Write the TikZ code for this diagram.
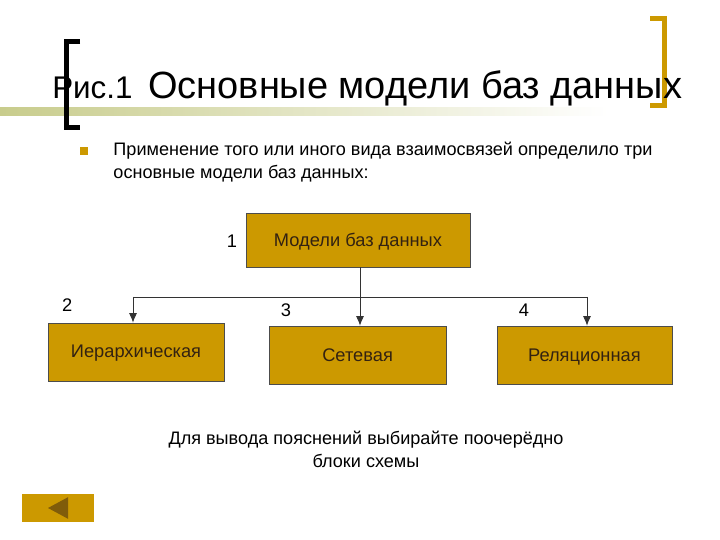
\documentclass[tikz,border=0pt]{standalone}
\usepackage{fontspec}
\setmainfont{Liberation Sans}
\usetikzlibrary{arrows.meta, positioning}
\definecolor{boxgold}{RGB}{204,153,0}
\definecolor{bandolive}{RGB}{200,204,140}
\definecolor{arrowbrown}{RGB}{128,92,10}
\definecolor{inkdark}{RGB}{51,34,17}
\begin{document}
\begin{tikzpicture}[
  modelbox/.style={draw=black!70,fill=boxgold,text=inkdark,font=\fontsize{13}{15}\selectfont,inner sep=0pt,text height=3.7mm,text depth=0.6mm},
  numlabel/.style={font=\fontsize{13}{15}\selectfont,inner sep=0pt},
  bodytext/.style={font=\fontsize{12.86}{16.4}\selectfont,inner sep=0pt,align=left},
  busline/.style={semithick,black!80},
  busarrow/.style={busline,-{Latex[length=2.4mm,width=2mm]}}]
\useasboundingbox (0,0) rectangle (18,13.5);
\fill[white] (0,0) rectangle (18,13.5);
% band under the title
\shade[left color=bandolive,right color=white] (0,10.6) rectangle (15.2,10.8);
% brackets
\draw[line width=1.25mm,black] (2.0,12.47) -- (1.66,12.47) -- (1.66,10.3) -- (2.0,10.3);
\draw[line width=1.25mm,boxgold] (16.25,13.03) -- (16.6,13.03) -- (16.6,10.85) -- (16.25,10.85);
% title
\node[anchor=base west,inner sep=0pt,font=\fontsize{22.3}{26}\selectfont] (fig) at (1.3,11.03) {Рис.1};
\node[anchor=base west,inner sep=0pt,font=\fontsize{27}{31}\selectfont] (title) at (3.7,11.03) {Основные модели баз данных};
% bullet
\node[fill=boxgold,minimum size=0.2cm,inner sep=0pt] (bullet) at (2.1,9.73) {};
\node[bodytext,anchor=north west] (intro) at (2.83,9.95) {Применение того или иного вида взаимосвязей определило три\\основные модели баз данных:};
% boxes
\node[modelbox,minimum width=5.6cm,minimum height=1.35cm] (models) at (8.95,7.5) {Модели баз данных};
\node[modelbox,minimum width=4.4cm,minimum height=1.45cm,text height=3.3mm] (hier) at (3.4,4.7) {Иерархическая};
\node[modelbox,minimum width=4.42cm,minimum height=1.45cm] (net) at (8.94,4.625) {Сетевая};
\node[modelbox,minimum width=4.38cm,minimum height=1.45cm] (rel) at (14.61,4.625) {Реляционная};
% numbers
\node[numlabel] (n1) at (5.8,7.48) {1};
\node[numlabel] (n2) at (1.68,5.87) {2};
\node[numlabel] (n3) at (7.15,5.75) {3};
\node[numlabel] (n4) at (13.1,5.75) {4};
% connectors
\path coordinate (busl) at (3.325,6.075)
      coordinate (busm) at (9.0,6.075)
      coordinate (busr) at (14.675,6.075);
\draw[busline] (models.south -| busm) -- (busm);
\draw[busline] (busl) -- (busr);
\draw[busarrow] (busl) -- (busl |- hier.north);
\draw[busarrow] (busm) -- (busm |- net.north);
\draw[busarrow] (busr) -- (busr |- rel.north);
% note
\node[bodytext,align=center,anchor=north] (note) at (9.15,2.74) {Для вывода пояснений выбирайте поочерёдно\\блоки схемы};
% back button
\node[fill=boxgold,minimum width=1.8cm,minimum height=0.7cm,inner sep=0pt] (back) at (1.45,0.8) {};
\fill[arrowbrown] (1.2,0.8) -- (1.7,1.07) -- (1.7,0.53) -- cycle;
\end{tikzpicture}
\end{document}
